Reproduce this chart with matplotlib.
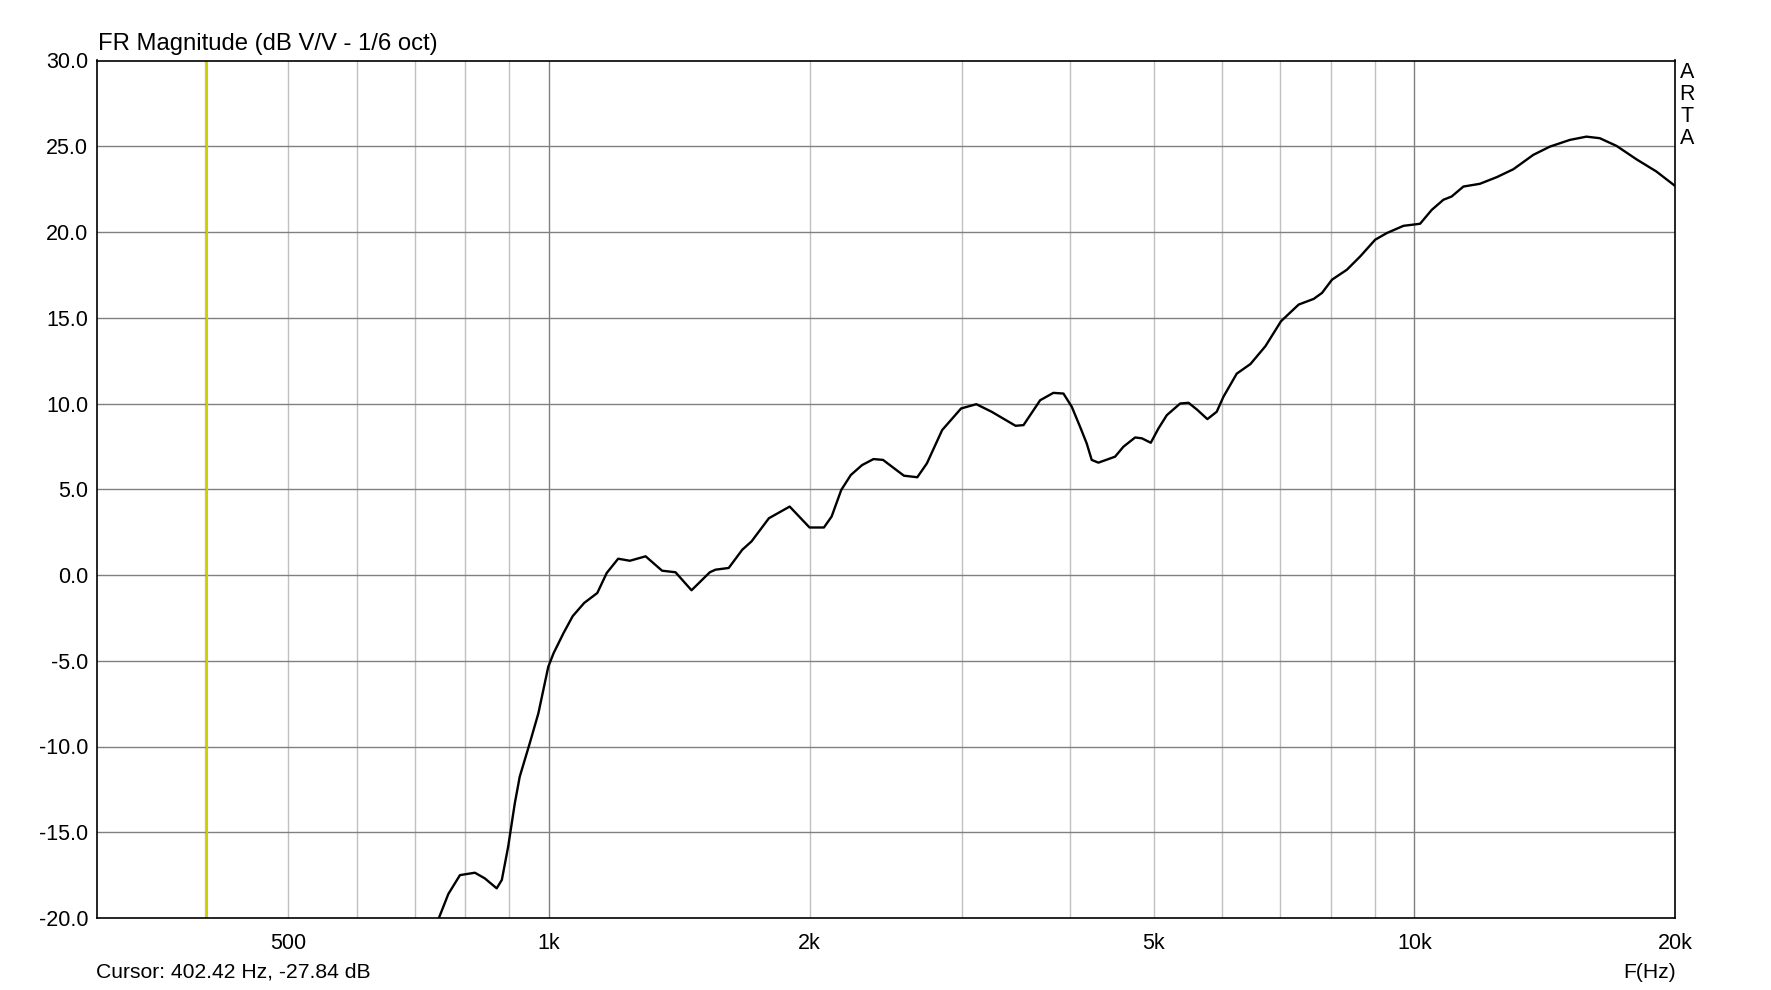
import numpy as np
import matplotlib.pyplot as plt

plt.rcParams['font.family'] = ['Liberation Sans', 'DejaVu Sans']

# Frequency response (Hz, dB)
freq = [742, 765, 789, 821, 843, 870, 882, 897, 913, 925, 950, 972, 998, 1012,
        1039, 1065, 1098, 1137, 1166, 1202, 1240, 1293, 1351, 1400, 1461, 1534,
        1557, 1613, 1672, 1714, 1795, 1897, 2000, 2078, 2121, 2176, 2232, 2300,
        2371, 2432, 2520, 2571, 2664, 2733, 2846, 2993, 3117, 3246, 3460, 3534,
        3694, 3826, 3930, 4018, 4108, 4181, 4237, 4313, 4509, 4610, 4756, 4842,
        4958, 5061, 5174, 5362, 5482, 5605, 5764, 5909, 6015, 6232, 6463, 6726,
        7012, 7349, 7649, 7820, 8030, 8354, 8657, 9007, 9292, 9712, 10150, 10470,
        10800, 11040, 11390, 11900, 12450, 13010, 13720, 14340, 15120, 15800,
        16370, 17120, 18050, 19030, 20000]
mag = [-20.3, -18.6, -17.5, -17.36, -17.69, -18.27, -17.78, -15.84, -13.31,
       -11.76, -9.81, -8.07, -5.35, -4.57, -3.4, -2.4, -1.63, -1.05, 0.12, 0.95,
       0.83, 1.09, 0.25, 0.16, -0.89, 0.16, 0.31, 0.41, 1.47, 1.96, 3.31, 3.99,
       2.77, 2.77, 3.41, 4.96, 5.83, 6.41, 6.76, 6.71, 6.12, 5.79, 5.70, 6.51,
       8.45, 9.71, 9.96, 9.52, 8.7, 8.74, 10.19, 10.62, 10.58, 9.81, 8.64, 7.67,
       6.71, 6.55, 6.90, 7.48, 8.02, 7.97, 7.71, 8.55, 9.32, 10.0, 10.04, 9.65,
       9.09, 9.52, 10.39, 11.74, 12.3, 13.34, 14.8, 15.77, 16.1, 16.45, 17.22,
       17.8, 18.58, 19.55, 19.94, 20.36, 20.48, 21.29, 21.88, 22.07, 22.65,
       22.81, 23.2, 23.66, 24.5, 24.98, 25.37, 25.56, 25.47, 25.02, 24.24,
       23.53, 22.69]

minor_grid = [400, 500, 600, 700, 800, 900, 2000, 3000, 4000, 5000, 6000,
              7000, 8000, 9000]
major_grid = [1000, 10000]
xtick_pos = [500, 1000, 2000, 5000, 10000, 20000]
xtick_lab = ['500', '1k', '2k', '5k', '10k', '20k']
yticks = [-20, -15, -10, -5, 0, 5, 10, 15, 20, 25, 30]
cursor_f = 402.42

fig = plt.figure(figsize=(17.71, 9.90), dpi=100)
ax = fig.add_axes([96.5 / 1771, 1 - 918 / 990, (1675 - 96.5) / 1771, (918 - 60.5) / 990])

ax.set_xscale('log')
ax.set_xlim(300, 20000)
ax.set_ylim(-20, 30)

for f in minor_grid:
    ax.axvline(f, color='#c0c0c0', lw=1.0, zorder=1)
for f in major_grid:
    ax.axvline(f, color='#808080', lw=1.0, zorder=1)
for y in yticks[1:-1]:
    ax.axhline(y, color='#808080', lw=1.0, zorder=1)

ax.axvline(cursor_f, color='#d0d000', lw=1.5, zorder=2)
ax.plot(freq, mag, color='black', lw=1.7, zorder=3)

ax.set_xticks(xtick_pos)
ax.set_xticklabels(xtick_lab)
ax.xaxis.set_minor_locator(plt.NullLocator())
ax.set_yticks(yticks)
ax.set_yticklabels(['%.1f' % v for v in yticks])
ax.tick_params(length=0, labelsize=15.5, colors='black')
ax.tick_params(axis='x', pad=11)
ax.tick_params(axis='y', pad=6)
for s in ax.spines.values():
    s.set_linewidth(1.2)
    s.set_color('black')

fig.text(98 / 1771, 1 - 50 / 990, 'FR Magnitude (dB V/V - 1/6 oct)', fontsize=17.2,
         va='baseline', ha='left')
for i, ch in enumerate('ARTA'):
    fig.text(1687 / 1771, 1 - (72 + i * 22) / 990, ch, fontsize=15.5, ha='center', va='center')
fig.text(96 / 1771, 1 - 972 / 990, 'Cursor: 402.42 Hz, -27.84 dB', fontsize=15.2,
         ha='left', va='center')
fig.text(1676 / 1771, 1 - 972 / 990, 'F(Hz)', fontsize=15.2, ha='right', va='center')

fig.savefig('out.png', dpi=100)
